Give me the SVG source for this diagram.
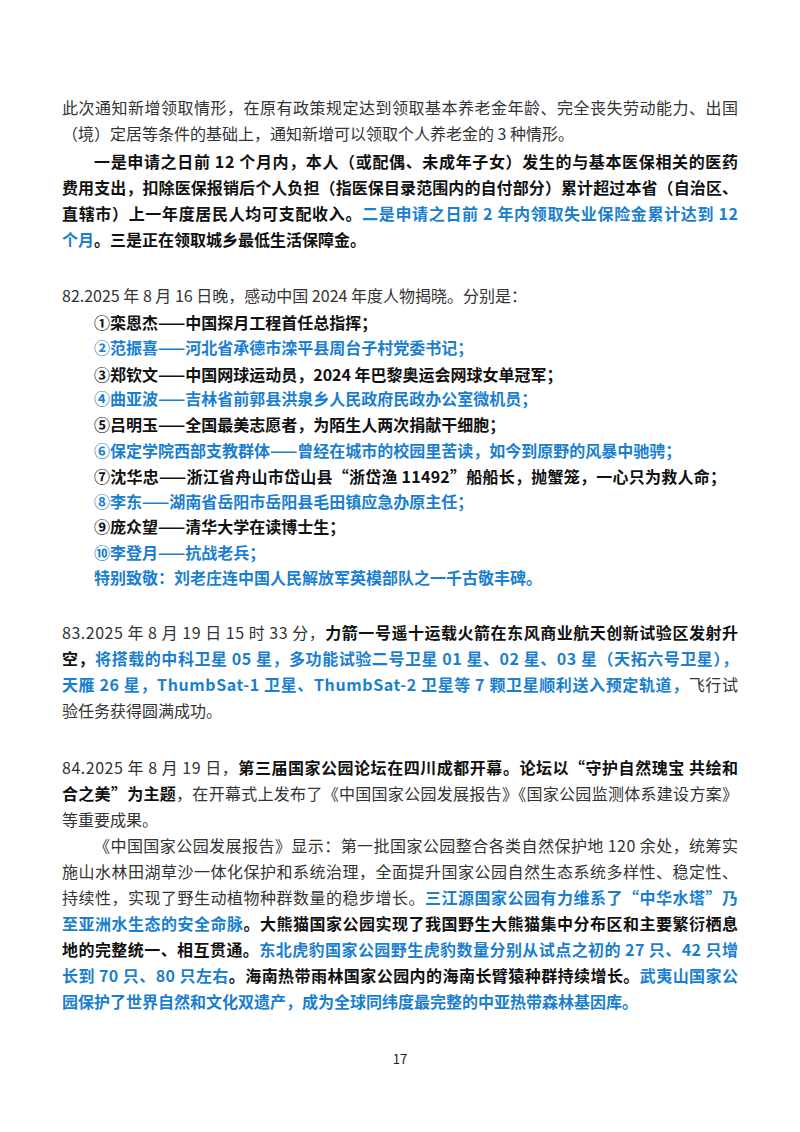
<svg xmlns="http://www.w3.org/2000/svg" width="800" height="1132" viewBox="0 0 800 1132">
<style>
text{font-family:"Noto Sans CJK SC","Liberation Sans",sans-serif;font-size:16px;fill:#333}
.b{font-weight:bold;fill:#111}
.u{font-weight:bold;fill:#1a7fd0}
.n{font-weight:normal;fill:#333}
</style>
<rect width="800" height="1132" fill="#fff"/>
<g id="p81">
<text x="62" y="114" textLength="676" lengthAdjust="spacing">此次通知新增领取情形，在原有政策规定达到领取基本养老金年龄、完全丧失劳动能力、出国</text>
<text x="62" y="140">（境）定居等条件的基础上，通知新增可以领取个人养老金的 3 种情形。</text>
<text x="94" y="168" class="b" textLength="644" lengthAdjust="spacing">一是申请之日前 12 个月内，本人（或配偶、未成年子女）发生的与基本医保相关的医药</text>
<text x="62" y="194" class="b" textLength="676" lengthAdjust="spacing">费用支出，扣除医保报销后个人负担（指医保目录范围内的自付部分）累计超过本省（自治区、</text>
<text x="62" y="220" class="b" textLength="676" lengthAdjust="spacing">直辖市）上一年度居民人均可支配收入。<tspan class="u">二是申请之日前 2 年内领取失业保险金累计达到 12</tspan></text>
<text x="62" y="246" class="u">个月<tspan class="b">。三是正在领取城乡最低生活保障金。</tspan></text>
</g>
<g id="p82">
<text x="62" y="302">82.2025 年 8 月 16 日晚，感动中国 2024 年度人物揭晓。分别是：</text>
<text x="94" y="329" class="b">①栾恩杰——中国探月工程首任总指挥；</text>
<text x="94" y="354" class="u">②范振喜——河北省承德市滦平县周台子村党委书记；</text>
<text x="94" y="381" class="b">③郑钦文——中国网球运动员，2024 年巴黎奥运会网球女单冠军；</text>
<text x="94" y="405" class="u">④曲亚波——吉林省前郭县洪泉乡人民政府民政办公室微机员；</text>
<text x="94" y="431" class="b">⑤吕明玉——全国最美志愿者，为陌生人两次捐献干细胞；</text>
<text x="94" y="457" class="u">⑥保定学院西部支教群体——曾经在城市的校园里苦读，如今到原野的风暴中驰骋；</text>
<text x="94" y="483" class="b" textLength="632" lengthAdjust="spacing">⑦沈华忠——浙江省舟山市岱山县“浙岱渔 11492”船船长，抛蟹笼，一心只为救人命；</text>
<text x="94" y="508" class="u">⑧李东——湖南省岳阳市岳阳县毛田镇应急办原主任；</text>
<text x="94" y="533" class="b">⑨庞众望——清华大学在读博士生；</text>
<text x="94" y="559" class="u">⑩李登月——抗战老兵；</text>
<text x="94" y="584" class="u">特别致敬：刘老庄连中国人民解放军英模部队之一千古敬丰碑。</text>
</g>
<g id="p83">
<text x="62" y="639" textLength="676" lengthAdjust="spacing">83.2025 年 8 月 19 日 15 时 33 分，<tspan class="b">力箭一号遥十运载火箭在东风商业航天创新试验区发射升</tspan></text>
<text x="62" y="665" class="b" textLength="676" lengthAdjust="spacing">空，<tspan class="u">将搭载的中科卫星 05 星，多功能试验二号卫星 01 星、02 星、03 星（天拓六号卫星），</tspan></text>
<text x="62" y="691" class="u" textLength="676" lengthAdjust="spacing">天雁 26 星，ThumbSat-1 卫星、ThumbSat-2 卫星等 7 颗卫星顺利送入预定轨道，<tspan class="n">飞行试</tspan></text>
<text x="62" y="717">验任务获得圆满成功。</text>
</g>
<g id="p84">
<text x="62" y="774" textLength="676" lengthAdjust="spacing">84.2025 年 8 月 19 日，<tspan class="b">第三届国家公园论坛在四川成都开幕。论坛以“守护自然瑰宝 共绘和</tspan></text>
<text x="62" y="800" class="b" textLength="676" lengthAdjust="spacing">合之美”为主题<tspan class="n">，在开幕式上发布了《中国国家公园发展报告》《国家公园监测体系建设方案》</tspan></text>
<text x="62" y="826">等重要成果。</text>
<text x="94" y="852" textLength="644" lengthAdjust="spacing">《中国国家公园发展报告》显示：第一批国家公园整合各类自然保护地 120 余处，统筹实</text>
<text x="62" y="878" textLength="676" lengthAdjust="spacing">施山水林田湖草沙一体化保护和系统治理，全面提升国家公园自然生态系统多样性、稳定性、</text>
<text x="62" y="904" textLength="676" lengthAdjust="spacing">持续性，实现了野生动植物种群数量的稳步增长。<tspan class="u">三江源国家公园有力维系了“中华水塔”乃</tspan></text>
<text x="62" y="930" class="u" textLength="676" lengthAdjust="spacing">至亚洲水生态的安全命脉<tspan class="b">。大熊猫国家公园实现了我国野生大熊猫集中分布区和主要繁衍栖息</tspan></text>
<text x="62" y="956" class="b" textLength="676" lengthAdjust="spacing">地的完整统一、相互贯通。<tspan class="u">东北虎豹国家公园野生虎豹数量分别从试点之初的 27 只、42 只增</tspan></text>
<text x="62" y="982" class="u" textLength="676" lengthAdjust="spacing">长到 70 只、80 只左右<tspan class="b">。海南热带雨林国家公园内的海南长臂猿种群持续增长。</tspan>武夷山国家公</text>
<text x="62" y="1008" class="u">园保护了世界自然和文化双遗产，成为全球同纬度最完整的中亚热带森林基因库。</text>
</g>
<text x="400" y="1064" text-anchor="middle" style="font-size:13px;fill:#222">17</text>
</svg>
